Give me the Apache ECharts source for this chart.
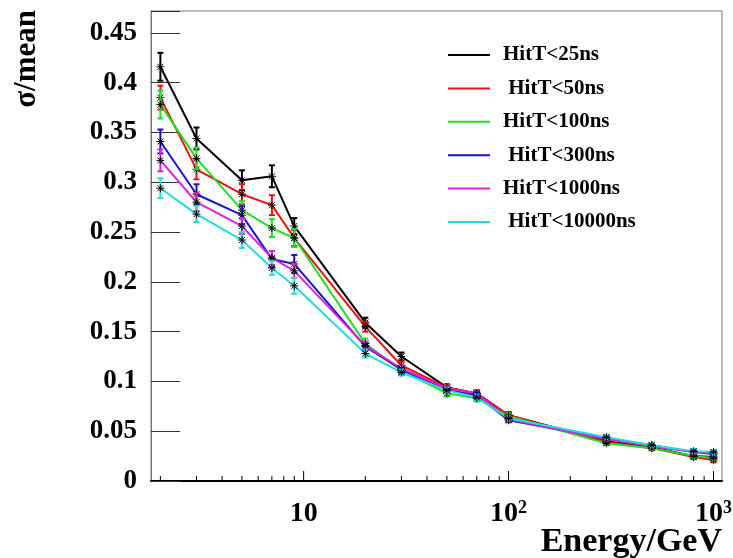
<!DOCTYPE html>
<html>
<head>
<meta charset="utf-8">
<script src="https://cdn.jsdelivr.net/npm/echarts@6/dist/echarts.min.js"></script>
<style>
  html, body { margin: 0; padding: 0; background: #fff; }
  #chart { width: 733px; height: 558px; }
</style>
</head>
<body>
<div id="chart"></div>
<script>
// energy points (GeV)
var energy = [2, 3, 5, 7, 9, 20, 30, 50, 70, 100, 300, 500, 800, 1000];

var names = ['HitT<25ns', ' HitT<50ns', 'HitT<100ns', ' HitT<300ns', 'HitT<1000ns', ' HitT<10000ns'];
var colors = ['#000000', '#ee1111', '#22dd22', '#1515cc', '#dd22dd', '#22dddd'];

// sigma/mean values
var hit25 = [0.416, 0.344, 0.302, 0.306, 0.256, 0.159, 0.125, 0.094, 0.088, 0.066, 0.040, 0.034, 0.025, 0.024];
var hit50 = [0.385, 0.313, 0.288, 0.277, 0.244, 0.155, 0.116, 0.094, 0.088, 0.066, 0.039, 0.033, 0.024, 0.021];
var hit100 = [0.378, 0.324, 0.272, 0.254, 0.244, 0.138, 0.111, 0.088, 0.083, 0.065, 0.038, 0.033, 0.025, 0.023];
var hit300 = [0.341, 0.288, 0.267, 0.223, 0.218, 0.135, 0.112, 0.092, 0.086, 0.061, 0.043, 0.036, 0.029, 0.027];
var hit1000 = [0.322, 0.280, 0.256, 0.224, 0.211, 0.136, 0.113, 0.093, 0.088, 0.062, 0.042, 0.035, 0.029, 0.028];
var hit10000 = [0.294, 0.268, 0.242, 0.214, 0.196, 0.128, 0.109, 0.091, 0.084, 0.063, 0.044, 0.036, 0.030, 0.029];

// error bars (half length)
var err25 = [0.014, 0.011, 0.010, 0.011, 0.008, 0.005, 0.004, 0.003, 0.003, 0.003, 0.003, 0.002, 0.002, 0.002];
var err50 = [0.012, 0.010, 0.010, 0.010, 0.008, 0.005, 0.004, 0.003, 0.003, 0.003, 0.002, 0.002, 0.002, 0.002];
var err100 = [0.014, 0.011, 0.009, 0.009, 0.009, 0.005, 0.004, 0.003, 0.003, 0.003, 0.002, 0.002, 0.002, 0.002];
var err300 = [0.012, 0.010, 0.009, 0.008, 0.009, 0.004, 0.003, 0.003, 0.003, 0.002, 0.002, 0.002, 0.002, 0.002];
var err1000 = [0.011, 0.009, 0.008, 0.007, 0.007, 0.004, 0.003, 0.003, 0.003, 0.002, 0.002, 0.002, 0.002, 0.002];
var err10000 = [0.010, 0.008, 0.008, 0.007, 0.008, 0.004, 0.003, 0.003, 0.003, 0.002, 0.002, 0.002, 0.002, 0.002];

// axis tick positions on the log axis
var minorTicks = [2, 3, 4, 5, 6, 7, 8, 9, 20, 30, 40, 50, 60, 70, 80, 90, 200, 300, 400, 500, 600, 700, 800, 900];
var majorTicks = [10, 100, 1000];

var values = [hit25, hit50, hit100, hit300, hit1000, hit10000];
var errors = [err25, err50, err100, err300, err1000, err10000];

var font = 'Liberation Serif';

var chart = echarts.init(document.getElementById('chart'));

function errRender(color) {
    return function (params, api) {
        var x = api.value(0), y = api.value(1), e = api.value(2);
        var p = api.coord([x, y]);
        var t = api.coord([x, y + e]);
        var b = api.coord([x, y - e]);
        var s = 4;
        var kids = [
            { type: 'line', shape: { x1: p[0], y1: t[1], x2: p[0], y2: b[1] }, style: { stroke: color, lineWidth: 2 } },
            { type: 'line', shape: { x1: p[0] - 3, y1: t[1], x2: p[0] + 3, y2: t[1] }, style: { stroke: color, lineWidth: 2 } },
            { type: 'line', shape: { x1: p[0] - 3, y1: b[1], x2: p[0] + 3, y2: b[1] }, style: { stroke: color, lineWidth: 2 } },
            // asterisk marker
            { type: 'line', shape: { x1: p[0] - s, y1: p[1], x2: p[0] + s, y2: p[1] }, style: { stroke: '#000', lineWidth: 1 } },
            { type: 'line', shape: { x1: p[0], y1: p[1] - s, x2: p[0], y2: p[1] + s }, style: { stroke: '#000', lineWidth: 1 } },
            { type: 'line', shape: { x1: p[0] - 3, y1: p[1] - 3, x2: p[0] + 3, y2: p[1] + 3 }, style: { stroke: '#000', lineWidth: 1 } },
            { type: 'line', shape: { x1: p[0] - 3, y1: p[1] + 3, x2: p[0] + 3, y2: p[1] - 3 }, style: { stroke: '#000', lineWidth: 1 } }
        ];
        return { type: 'group', children: kids };
    };
}

var series = [];
for (var i = 0; i < names.length; i++) {
    series.push({
        name: names[i],
        type: 'line',
        data: energy.map(function (x, j) { return [x, values[i][j]]; }),
        symbol: 'none',
        lineStyle: { color: colors[i], width: 2 },
        itemStyle: { color: colors[i] },
        z: 3
    });
}
for (var i = 0; i < names.length; i++) {
    series.push({
        type: 'custom',
        data: energy.map(function (x, j) { return [x, values[i][j], errors[i][j]]; }),
        renderItem: errRender(colors[i]),
        silent: true,
        z: 4
    });
}
// x ticks drawn inward from the bottom axis
series.push({
    type: 'custom',
    data: minorTicks.map(function (v) { return [v, 0, 5]; }).concat(majorTicks.map(function (v) { return [v, 0, 10]; })),
    renderItem: function (params, api) {
        var p = api.coord([api.value(0), 0]);
        return { type: 'line', shape: { x1: p[0], y1: p[1], x2: p[0], y2: p[1] - api.value(2) }, style: { stroke: '#000', lineWidth: 1 } };
    },
    silent: true,
    z: 5
});

var option = {
    animation: false,
    backgroundColor: '#fff',
    grid: {
        left: 151, right: 11, top: 11, bottom: 77,
        containLabel: false, outerBoundsMode: 'none',
        show: true, borderColor: '#777', borderWidth: 1
    },
    legend: {
        data: names.map(function (n) { return { name: n, icon: 'rect' }; }),
        orient: 'vertical',
        left: 443,
        top: 39,
        itemWidth: 42,
        itemHeight: 2,
        itemGap: 11.4,
        textStyle: { fontFamily: font, fontWeight: 'bold', fontSize: 21, color: '#000', lineHeight: 22, padding: [0, 0, 0, 8] }
    },
    xAxis: {
        type: 'log',
        logBase: 10,
        min: 1.8,
        max: 1100,
        axisLine: { lineStyle: { color: '#000', width: 2 } },
        axisTick: { show: false },
        splitLine: { show: false },
        minorTick: { show: false },
        axisLabel: {
            margin: 18,
            formatter: function (v) {
                var e = Math.log10(v);
                if (Math.abs(e - Math.round(e)) > 1e-6) return '';
                e = Math.round(e);
                if (e === 1) return '{b|10}';
                return '{b|10}{sup|' + e + '}';
            },
            rich: {
                b: { fontFamily: font, fontWeight: 'bold', fontSize: 28, color: '#000', lineHeight: 30 },
                sup: { fontFamily: font, fontWeight: 'bold', fontSize: 18, color: '#000', verticalAlign: 'top', lineHeight: 30, padding: [0, 0, 14, 0] }
            }
        }
    },
    yAxis: {
        type: 'value',
        min: 0,
        max: 0.472,
        interval: 0.05,
        axisLine: { show: true, lineStyle: { color: '#777', width: 1 } },
        axisTick: { show: true, inside: true, length: 29, lineStyle: { color: '#333', width: 1 } },
        splitLine: { show: false },
        axisLabel: {
            margin: 14,
            fontFamily: font,
            fontWeight: 'bold',
            fontSize: 27,
            color: '#000',
            formatter: function (v) {
                var k = v / 0.05;
                if (Math.abs(k - Math.round(k)) > 1e-6) return '';
                return String(+v.toFixed(2));
            }
        }
    },
    graphic: [{
        type: 'text',
        x: 42,
        y: 10,
        rotation: Math.PI / 2,
        style: { text: 'σ/mean', fontFamily: font, fontWeight: 'bold', fontSize: 31, fill: '#000', align: 'right', verticalAlign: 'bottom' }
    }, {
        type: 'text',
        x: 722,
        y: 559,
        style: { text: 'Energy/GeV', fontFamily: font, fontWeight: 'bold', fontSize: 34, fill: '#000', align: 'right', verticalAlign: 'bottom' }
    }],
    series: series
};
chart.setOption(option);
</script>
</body>
</html>
